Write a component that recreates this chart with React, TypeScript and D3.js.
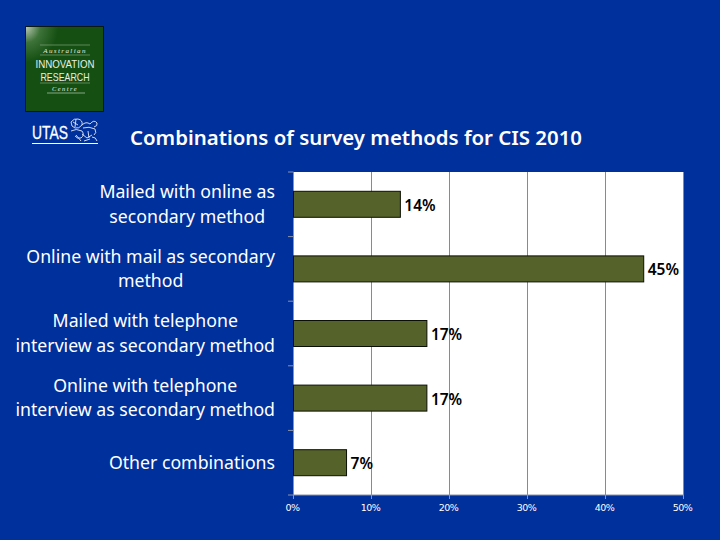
import React from "react";
import * as d3 from "d3";

const categories = [
  ["Mailed with online as", "secondary method"],
  ["Online with mail as secondary", "method"],
  ["Mailed with telephone", "interview as secondary method"],
  ["Online with telephone", "interview as secondary method"],
  ["Other combinations"],
];
const values = [13.7, 44.9, 17.1, 17.1, 6.8];
const valueLabels = ["14%", "45%", "17%", "17%", "7%"];
const xTicks = [0, 10, 20, 30, 40, 50];
const title = "Combinations of survey methods for CIS 2010";

const BG = "#00309c";
const FONT = "'Noto Sans', 'Open Sans', sans-serif";
const LABEL_SIZE = 17.7;

function blockWidth(lines: string[]) {
  const ctx = document.createElement("canvas").getContext("2d")!;
  ctx.font = `${LABEL_SIZE}px ${FONT}`;
  return d3.max(lines, (l) => ctx.measureText(l).width)!;
}

export default function App() {
  const x = d3.scaleLinear().domain([0, 50]).range([293.5, 683.5]);
  const band = d3.scaleBand<number>().domain(d3.range(5)).range([172, 495]);
  const barH = 26;
  const bw = band.bandwidth();
  return (
    <svg width={720} height={540} style={{ position: "fixed", left: 0, top: 0, display: "block" }}>
      <defs>
        <radialGradient id="gl" cx="0" cy="0" r="0.42">
          <stop offset="0" stopColor="#b9c9b4" />
          <stop offset="0.45" stopColor="#3d7238" />
          <stop offset="1" stopColor="#154f12" />
        </radialGradient>
      </defs>
      <rect width={720} height={540} fill={BG} />
      {/* logo */}
      <rect x={25.5} y={26.5} width={78} height={85} fill="#154f12" stroke="#0b1a10" strokeWidth={1} />
      <rect x={26} y={27} width={77} height={84} fill="url(#gl)" />
      {[45, 55, 83, 93].map((y) => (
        <line key={y} x1={y === 93 ? 47 : 40} x2={y === 93 ? 85 : 90} y1={y} y2={y} stroke={y === 93 ? "#b9cdb4" : "#7fa07a"} strokeWidth={0.7} />
      ))}
      <g fill="#e8efe6" textAnchor="middle" fontFamily="'Liberation Serif', serif">
        <text x={65} y={53} fontSize={7} fontStyle="italic" letterSpacing={1.4}>Australian</text>
        <text x={65} y={68} fontSize={11} textLength={59} lengthAdjust="spacingAndGlyphs" fontFamily="'Liberation Sans', sans-serif">INNOVATION</text>
        <text x={65} y={81} fontSize={11} textLength={49} lengthAdjust="spacingAndGlyphs" fontFamily="'Liberation Sans', sans-serif">RESEARCH</text>
        <text x={65} y={91} fontSize={6.5} fontStyle="italic" letterSpacing={1.4}>Centre</text>
      </g>
      <text x={32} y={139} fill="#fff" fontFamily="'Liberation Sans', sans-serif" fontSize={18} textLength={36} lengthAdjust="spacingAndGlyphs" stroke="#fff" strokeWidth={0.3}>UTAS</text>
      <line x1={32} x2={98} y1={143.5} y2={143.5} stroke="#fff" strokeWidth={1} />
      <g fill="none" stroke="#e4eaf7" strokeWidth={0.9}>
        <path d="M71 122 q3 -4 7 -3 q5 1 4 6 q-3 4 -7 3 q-4 -1 -4 -6 M73 122 l5 3 M76 119 l-1 8" />
        <path d="M82 125 q4 -4 8 -1 q4 -5 7 -1 q1 3 -3 4 M83 128 q6 -2 12 1 q2 4 -1 6 M71 131 q5 -3 11 0 q3 4 -1 7 q-4 1 -6 -2" />
        <path d="M76 135 l5 6 M82 134 l5 4 l5 -3 M88 131 l1 7 M92 137 q4 0 5 4 M84 141 l6 -2" />
      </g>
      <text x={130} y={145} fill="#fff" fontFamily={FONT} fontWeight={600} fontSize={19} textLength={452} lengthAdjust="spacingAndGlyphs">{title}</text>

      {/* plot */}
      <rect x={x(0)} y={172} width={x(50) - x(0)} height={323} fill="#fff" />
      {xTicks.slice(1).map((t) => (
        <line key={t} x1={x(t)} x2={x(t)} y1={172} y2={495} stroke="#8a8a8a" strokeWidth={1} />
      ))}
      <line x1={x(0)} x2={x(0)} y1={172} y2={495} stroke="#8b93a8" strokeWidth={1} />
      <line x1={x(0)} x2={x(50)} y1={495} y2={495} stroke="#8b93a8" strokeWidth={1} />
      {d3.range(6).map((i) => {
        const y = 172 + i * bw;
        return <line key={i} x1={288} x2={x(0)} y1={y} y2={y} stroke="#8b93a8" strokeWidth={1} />;
      })}
      {xTicks.map((t) => (
        <g key={t}>
          <line x1={x(t)} x2={x(t)} y1={495} y2={499} stroke="#8b93a8" strokeWidth={1} />
          <text x={x(t) - 1} y={511} textAnchor="middle" fill="#fff" fontFamily="'DejaVu Sans', sans-serif" fontSize={9.5} letterSpacing={-0.5}>{t}%</text>
        </g>
      ))}
      {values.map((v, i) => {
        const cy = band(i)! + bw / 2;
        // Lines are centred within a block whose right edge sits at x = 275.
        const blockW = blockWidth(categories[i]);
        return (
          <g key={i}>
            <rect x={x(0)} y={cy - barH / 2} width={x(v) - x(0)} height={barH} fill="#556229" stroke="#0a0f05" strokeWidth={1} />
            <text x={x(v) + 4} y={cy + 6.5} fontFamily={FONT} fontWeight={600} fontSize={15.5} fill="#000">{valueLabels[i]}</text>
            <text textAnchor="middle" fill="#fff" fontFamily={FONT} fontSize={LABEL_SIZE}>
              {categories[i].map((line, j) => (
                <tspan key={j} x={275 - blockW / 2} y={cy + 6 + (j - (categories[i].length - 1) / 2) * 24.5}>{line}</tspan>
              ))}
            </text>
          </g>
        );
      })}
    </svg>
  );
}
